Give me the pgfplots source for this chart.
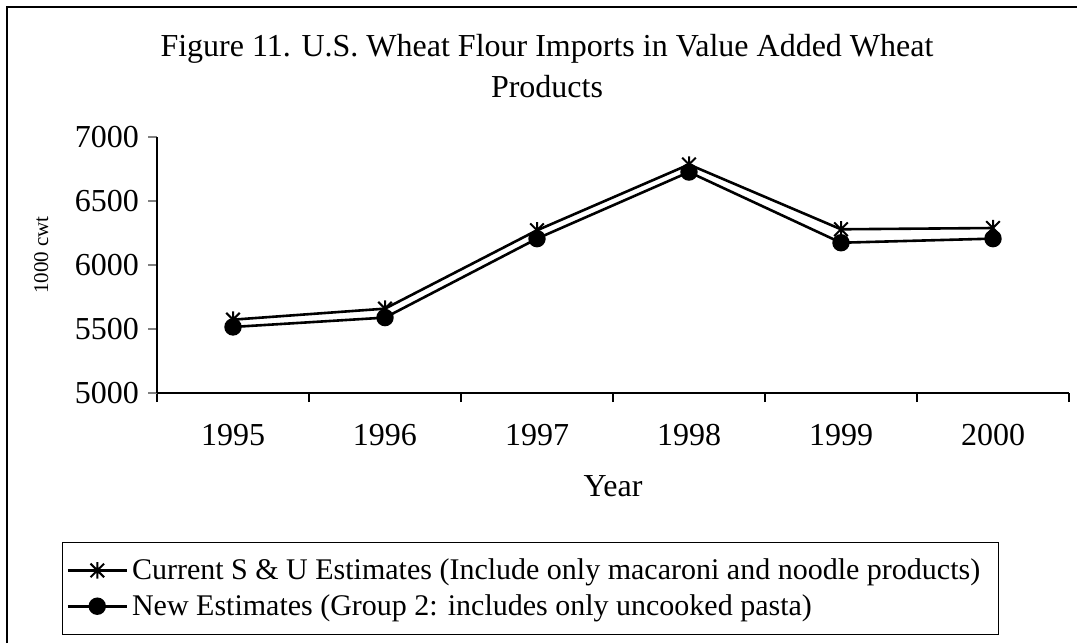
\documentclass[border=0pt]{standalone}
\usepackage{fontspec}
\setmainfont{Liberation Serif}
\usepackage{pgfplots}
\pgfplotsset{compat=1.18}

% Excel-style star: an X with a vertical bar
\pgfdeclareplotmark{xstar}{%
  \pgfpathmoveto{\pgfpoint{-\pgfplotmarksize}{-\pgfplotmarksize}}%
  \pgfpathlineto{\pgfpoint{\pgfplotmarksize}{\pgfplotmarksize}}%
  \pgfpathmoveto{\pgfpoint{-\pgfplotmarksize}{\pgfplotmarksize}}%
  \pgfpathlineto{\pgfpoint{\pgfplotmarksize}{-\pgfplotmarksize}}%
  \pgfpathmoveto{\pgfpoint{0pt}{-1.2\pgfplotmarksize}}%
  \pgfpathlineto{\pgfpoint{0pt}{1.2\pgfplotmarksize}}%
  \pgfusepathqstroke}

\begin{document}
\begin{tikzpicture}
% 1 px of the reference = 0.5pt
\clip (0,0) rectangle (538.5pt,321.5pt);
\draw[line width=1pt] (3.5pt,0pt) -- (3.5pt,318pt) -- (540pt,318pt);

\node[anchor=base, font=\fontsize{16}{19}\selectfont] at (273.5pt,293pt)
  {Figure 11. U.S. Wheat Flour Imports in Value Added Wheat};
\node[anchor=base, font=\fontsize{16}{19}\selectfont] at (273.5pt,272.5pt)
  {Products};

\begin{axis}[
    at={(78.5pt,125pt)}, anchor=south west,
    scale only axis,
    width=456pt, height=128pt,
    xmin=-0.5, xmax=5.5,
    ymin=5000, ymax=7000,
    axis x line*=bottom, axis y line*=left,
    x axis line style={-}, y axis line style={-},
    axis line style={line width=0.7pt},
    xtick={0,...,5},
    xticklabels={1995,1996,1997,1998,1999,2000},
    minor xtick={-0.5,0.5,...,5.5},
    ytick={5000,5500,...,7000},
    tick align=outside,
    major tick length=4.5pt, minor tick length=4.5pt,
    x tick style={draw=none},
    minor x tick style={draw=black, line width=0.6pt},
    y tick style={line width=0.6pt},
    tick label style={font=\fontsize{16}{19}\selectfont},
    /pgf/number format/assume math mode=true,
    /pgf/number format/set thousands separator={},
    xticklabel style={anchor=base, yshift=-21.5pt},
    yticklabel style={anchor=east, xshift=-1pt},
    xlabel={Year},
    xlabel style={at={(axis description cs:0.5,-0.406)}, anchor=base,
                  font=\fontsize{16}{19}\selectfont},
    ylabel={1000 cwt},
    ylabel style={at={(axis description cs:-0.127,0.539)}, anchor=center,
                  font=\fontsize{10.5}{12}\selectfont},
    legend style={at={(axis description cs:-0.1042,-0.582)}, anchor=north west,
                  draw=black, line width=0.5pt,
                  font=\fontsize{15}{18}\selectfont,
                  inner xsep=2pt, inner ysep=6pt, row sep=2pt},
    legend cell align=left,
    legend image code/.code={%
      \draw[mark repeat=2, mark phase=2, #1]
        plot coordinates {(0pt,0pt) (14.75pt,0pt) (29.5pt,0pt)};},
]
\addplot[black, line width=1.3pt, mark=xstar, mark size=3.4pt,
         mark options={line width=1pt}]
  coordinates {(0,5573) (1,5659) (2,6271) (3,6785) (4,6279) (5,6289)};
\addplot[black, line width=1.3pt, mark=*, mark size=3.7pt]
  coordinates {(0,5516) (1,5589) (2,6206) (3,6726) (4,6174) (5,6206)};
\legend{Current S \& U Estimates (Include only macaroni and noodle products)\hspace*{5pt},
        New Estimates (Group 2: includes only uncooked pasta)}
\end{axis}
\end{tikzpicture}
\end{document}
